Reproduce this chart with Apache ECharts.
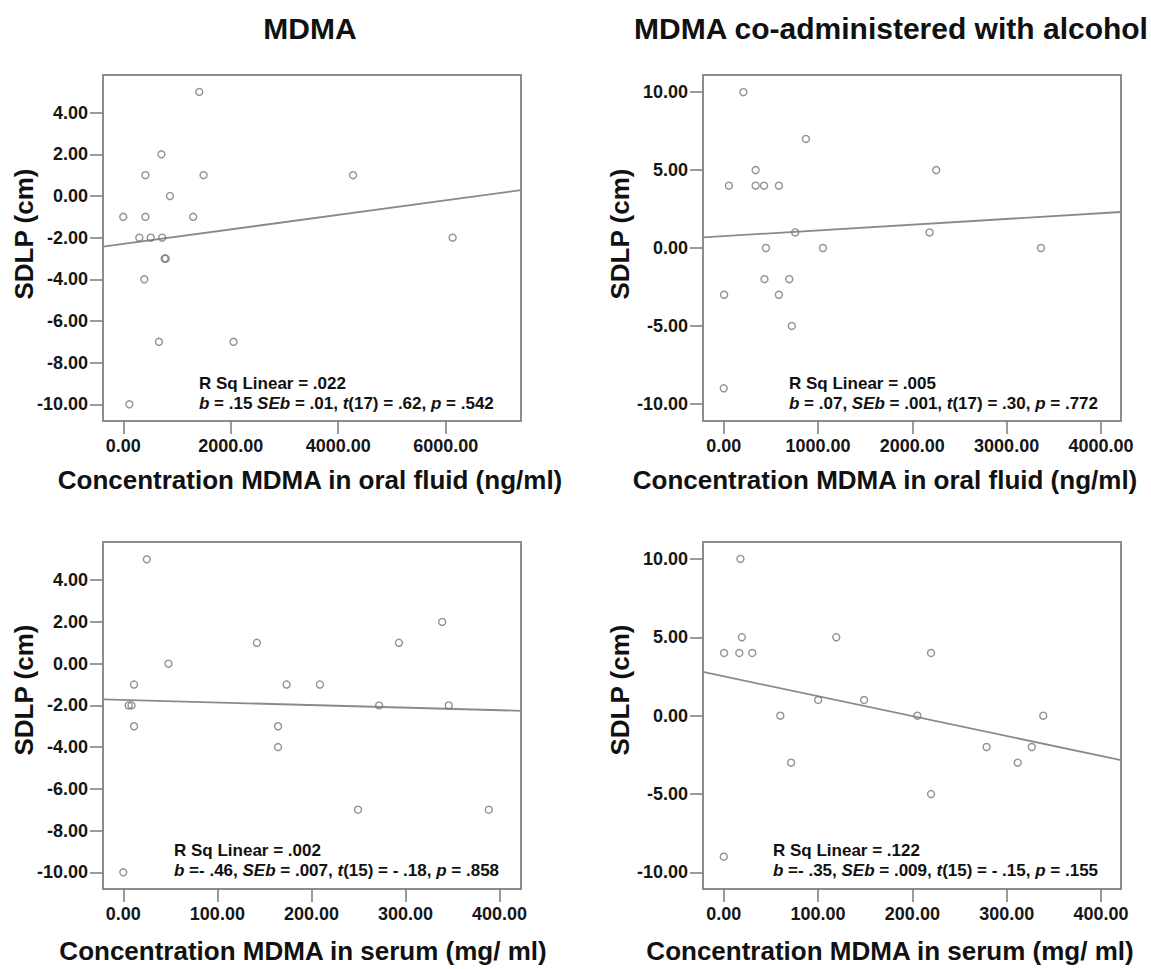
<!DOCTYPE html>
<html><head><meta charset="utf-8">
<script src="https://cdn.jsdelivr.net/npm/echarts@6/dist/echarts.min.js"></script>
<style>html,body{margin:0;padding:0;background:#fff}#c{width:1151px;height:969px}</style>
</head><body><div id="c"></div>
<script>
// ---- data ----
const p1X = [1414, 710, 412, 1494, 4276, 870, 0, 412, 1301, 299, 511, 724, 6129, 770, 790, 392, 664, 2052, 113];
const p1Y = [5, 2, 1, 1, 1, 0, -1, -1, -1, -2, -2, -2, -2, -3, -3, -4, -7, -7, -10];
const p2X = [208, 871, 338, 2253, 55, 338, 428, 585, 758, 2183, 448, 1052, 3364, 432, 695, 4, 585, 722, 0];
const p2Y = [10, 7, 5, 5, 4, 4, 4, 4, 1, 1, 0, 0, 0, -2, -2, -3, -3, -5, -9];
const p3X = [25, 339, 142, 293, 48, 11.4, 173.6, 209, 5.7, 8.7, 272, 346, 11.4, 164.5, 164.5, 249.5, 388.6, 0];
const p3Y = [5, 2, 1, 1, 0, -1, -1, -1, -2, -2, -2, -2, -3, -3, -4, -7, -7, -10];
const p4X = [17.7, 19.2, 119.3, 0.4, 16.5, 30.2, 219.8, 100.1, 148.8, 60, 205.3, 338.8, 278.7, 326.6, 71.4, 311.7, 219.8, 0];
const p4Y = [10, 5, 5, 4, 4, 4, 4, 1, 1, 0, 0, 0, -2, -2, -3, -3, -5, -9];

// linear fits: [intercept, slope]
const fit1 = [-2.30, 0.000349];
const fit2 = [0.76, 0.000368];
const fit3 = [-1.737, -0.001237];
const fit4 = [2.51, -0.0127];

const xTicks1 = [0, 2000, 4000, 6000];
const xTicks2 = [0, 1000, 2000, 3000, 4000];
const xTicks3 = [0, 100, 200, 300, 400];
const xTicks4 = [0, 100, 200, 300, 400];
const yTicksA = [-10, -8, -6, -4, -2, 0, 2, 4];
const yTicksB = [-10, -5, 0, 5, 10];

const titles = ['MDMA', 'MDMA co-administered with alcohol'];
const xNames = ['Concentration MDMA in oral fluid (ng/ml)', 'Concentration MDMA in oral fluid (ng/ml)',
                'Concentration MDMA in serum (mg/ ml)', 'Concentration MDMA in serum (mg/ ml)'];
const yName = 'SDLP (cm)';
const rsq = ['R Sq Linear = .022', 'R Sq Linear = .005', 'R Sq Linear = .002', 'R Sq Linear = .122'];
const stats = [
  '{i|b} = .15 {i|SEb} = .01, {i|t}(17) = .62, {i|p} = .542',
  '{i|b} = .07, {i|SEb} = .001, {i|t}(17) = .30, {i|p} = .772',
  '{i|b} =- .46, {i|SEb} = .007, {i|t}(15) = - .18, {i|p} = .858',
  '{i|b} =- .35, {i|SEb} = .009, {i|t}(15) = - .15, {i|p} = .155'
];

// ---- layout ----
const FONT = '"Liberation Sans", Arial, Helvetica, sans-serif';
const grids = [
  {left: 103, top: 75, width: 418, height: 346},
  {left: 703, top: 75, width: 418, height: 346},
  {left: 103, top: 542, width: 418, height: 347},
  {left: 703, top: 542, width: 418, height: 347}
];
const xRanges = [[-377, 7401], [-220, 4213], [-21.6, 422.8], [-22, 421.2]];
const yRanges = [[-10.8, 5.81], [-11.1, 11.1], [-10.8, 5.83], [-11.06, 11.08]];
const panels = [
  {x: p1X, y: p1Y, fit: fit1, xt: xTicks1, yt: yTicksA},
  {x: p2X, y: p2Y, fit: fit2, xt: xTicks2, yt: yTicksB},
  {x: p3X, y: p3Y, fit: fit3, xt: xTicks3, yt: yTicksA},
  {x: p4X, y: p4Y, fit: fit4, xt: xTicks4, yt: yTicksB}
];
const titlePos = [[310, 28], [891, 28]];
const xNamePos = [[310, 480], [885, 480], [303, 951], [890, 951]];
const yNamePos = [[24, 234], [620, 234], [24, 690], [620, 690]];
const annoPos = [[199, 383], [789, 383], [174, 850], [773, 850]];

const lblStyle = {fontSize: 18, fontWeight: 'bold', color: '#161616', fontFamily: FONT};
const tickStyle = {color: '#7a7a7a', width: 1.5};

const option = {
  animation: false,
  backgroundColor: '#fff',
  grid: grids.map(g => Object.assign({show: true, borderColor: '#8c8c8c', borderWidth: 2, backgroundColor: 'transparent'}, g)),
  xAxis: panels.map((p, i) => ({
    type: 'value', gridIndex: i, min: xRanges[i][0], max: xRanges[i][1], position: 'bottom',
    axisLine: {show: false, onZero: false}, splitLine: {show: false},
    axisTick: {show: true, length: 13, customValues: p.xt, lineStyle: tickStyle},
    axisLabel: Object.assign({customValues: p.xt, margin: 16, formatter: v => Number(v).toFixed(2)}, lblStyle)
  })),
  yAxis: panels.map((p, i) => ({
    type: 'value', gridIndex: i, min: yRanges[i][0], max: yRanges[i][1], position: 'left',
    axisLine: {show: false, onZero: false}, splitLine: {show: false},
    axisTick: {show: true, length: 13, customValues: p.yt, lineStyle: tickStyle},
    axisLabel: Object.assign({customValues: p.yt, margin: 15, formatter: v => Number(v).toFixed(2)}, lblStyle)
  })),
  series: [],
  graphic: []
};

panels.forEach((p, i) => {
  const x0 = xRanges[i][0], x1 = xRanges[i][1];
  option.series.push({
    type: 'line', xAxisIndex: i, yAxisIndex: i, showSymbol: false, silent: true, z: 2,
    lineStyle: {color: '#8a8a8a', width: 1.8},
    data: [[x0, p.fit[0] + p.fit[1] * x0], [x1, p.fit[0] + p.fit[1] * x1]]
  });
  option.series.push({
    type: 'scatter', xAxisIndex: i, yAxisIndex: i, symbol: 'circle', symbolSize: 7, z: 3,
    itemStyle: {color: 'rgba(255,255,255,0)', borderColor: '#777', borderWidth: 1.4},
    data: p.x.map((v, k) => [v, p.y[k]])
  });
});

const G = option.graphic;
titles.forEach((t, i) => G.push({type: 'text', x: titlePos[i][0], y: titlePos[i][1],
  style: {text: t, fontSize: 30, fontWeight: 'bold', fontFamily: FONT, fill: '#111', align: 'center', verticalAlign: 'middle'}}));
xNames.forEach((t, i) => G.push({type: 'text', x: xNamePos[i][0], y: xNamePos[i][1],
  style: {text: t, fontSize: 26, fontWeight: 'bold', fontFamily: FONT, fill: '#111', align: 'center', verticalAlign: 'middle'}}));
yNamePos.forEach((pos) => G.push({type: 'text', x: pos[0], y: pos[1], rotation: Math.PI / 2,
  style: {text: yName, fontSize: 26, fontWeight: 'bold', fontFamily: FONT, fill: '#111', align: 'center', verticalAlign: 'middle'}}));
annoPos.forEach((pos, i) => {
  G.push({type: 'text', x: pos[0], y: pos[1], z: 10,
    style: {text: rsq[i], fontSize: 17, fontWeight: 'bold', fontFamily: FONT, fill: '#111', align: 'left', verticalAlign: 'middle'}});
  G.push({type: 'text', x: pos[0], y: pos[1] + 20, z: 10,
    style: {text: stats[i], fontSize: 17, fontWeight: 'bold', fontFamily: FONT, fill: '#111', align: 'left', verticalAlign: 'middle',
      rich: {i: {fontStyle: 'italic', fontSize: 17, fontWeight: 'bold', fontFamily: FONT, fill: '#111'}}}});
});

const chart = echarts.init(document.getElementById('c'), null, {renderer: 'svg'});
chart.setOption(option);
</script>
</body></html>
